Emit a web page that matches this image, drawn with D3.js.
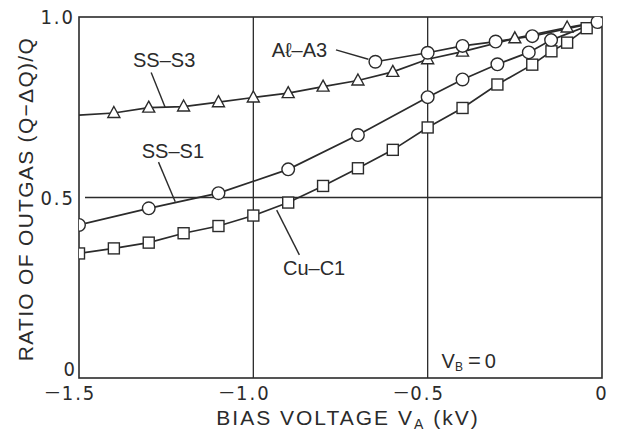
<!DOCTYPE html>
<html><head><meta charset="utf-8">
<script src="https://cdn.jsdelivr.net/npm/d3@7"></script>
<style>
html,body{margin:0;padding:0;background:#fff;}
svg{display:block;}
text{font-family:"Liberation Sans",Arial,sans-serif;fill:#2b2b2b;}
.tick{font-family:"Liberation Sans Narrow","DejaVu Sans Condensed","Liberation Sans",sans-serif;}
</style></head>
<body>
<svg id="chart" width="619" height="435"></svg>
<script>
// ---- data ----
const xTickValues = [-1.5, -1.0, -0.5, 0];
const xTickLabels = ["1.5", "1.0", "0.5", "0"];
const xTickNegative = [true, true, true, false];
const yTickValues = [0, 0.5, 1.0];
const yTickLabels = ["0", "0.5", "1.0"];

// SS-S3 (triangles)
const s3X = [-1.4, -1.3, -1.2, -1.1, -1.0, -0.9, -0.8, -0.7, -0.6, -0.5, -0.4, -0.25, -0.1];
const s3Y = [0.734, 0.749, 0.752, 0.764, 0.777, 0.789, 0.807, 0.824, 0.848, 0.883, 0.904, 0.941, 0.971];
const s3StartX = -1.5, s3StartY = 0.728;

// SS-S1 (circles)
const s1X = [-1.5, -1.3, -1.1, -0.9, -0.7, -0.5, -0.4, -0.3, -0.21, -0.146];
const s1Y = [0.424, 0.470, 0.512, 0.578, 0.673, 0.778, 0.827, 0.869, 0.902, 0.936];

// Cu-C1 (squares)
const c1X = [-1.5, -1.4, -1.3, -1.2, -1.1, -1.0, -0.9, -0.8, -0.7, -0.6, -0.5, -0.4, -0.3, -0.2, -0.145, -0.1, -0.044];
const c1Y = [0.345, 0.359, 0.375, 0.401, 0.421, 0.450, 0.486, 0.532, 0.581, 0.632, 0.694, 0.748, 0.813, 0.868, 0.905, 0.929, 0.969];

// Al-A3 (circles)
const a3X = [-0.65, -0.5, -0.4, -0.305, -0.2, -0.013];
const a3Y = [0.876, 0.901, 0.920, 0.932, 0.947, 0.986];

// common end point of all curves
const endX = -0.013, endY = 0.986;

// ---- layout ----
const L = 79, R = 602, T = 17, B = 378;
const svg = d3.select("#chart");
const x = d3.scaleLinear().domain([-1.5, 0]).range([L, R]);
const y = d3.scaleLinear().domain([0, 1.0]).range([B, T]);
const ink = "#2b2b2b";

svg.append("defs").append("clipPath").attr("id", "plotclip")
  .append("rect").attr("x", L).attr("y", T).attr("width", R - L).attr("height", B - T);

// grid lines
svg.append("g").selectAll("line").data([-1.0, -0.5]).join("line")
  .attr("x1", d => x(d)).attr("x2", d => x(d)).attr("y1", T).attr("y2", B)
  .attr("stroke", ink).attr("stroke-width", 1.3);
svg.append("line").attr("x1", x(-1.5) + 6).attr("x2", R).attr("y1", y(0.5)).attr("y2", y(0.5))
  .attr("stroke", ink).attr("stroke-width", 1.3);

// frame
svg.append("rect").attr("x", L).attr("y", T).attr("width", R - L).attr("height", B - T)
  .attr("fill", "none").attr("stroke", ink).attr("stroke-width", 1.6);

// axes tick labels
const xAxisG = svg.append("g");
xTickValues.forEach((v, i) => {
  const t = xAxisG.append("text").attr("class", "tick").attr("x", x(v)).attr("y", 400)
    .attr("text-anchor", "middle").attr("font-size", 20).attr("letter-spacing", 2)
    .text(xTickLabels[i]);
  if (xTickNegative[i]) {
    const w = t.node().getComputedTextLength();
    xAxisG.append("text").attr("class", "tick").attr("x", x(v) - w / 2 - 2).attr("y", 397)
      .attr("text-anchor", "end").attr("font-size", 16).text("\u2014");
  }
});
svg.append("g").selectAll("text").data(yTickValues).join("text").attr("class", "tick")
  .attr("x", d => d === 0 ? 77 : 75).attr("y", d => d === 0 ? y(d) - 2 : y(d) + 7).attr("text-anchor", "end")
  .attr("font-size", 20).attr("letter-spacing", 2).text((d, i) => yTickLabels[i]);

// axis titles
const xt = svg.append("text").attr("x", 348).attr("y", 425).attr("text-anchor", "middle")
  .attr("font-size", 21).attr("letter-spacing", 2);
xt.append("tspan").text("BIAS VOLTAGE V");
xt.append("tspan").attr("font-size", 14).attr("dy", 4).text("A");
xt.append("tspan").attr("dy", -4).text(" (kV)");

svg.append("text").attr("transform", "translate(33,199) rotate(-90)").attr("text-anchor", "middle")
  .attr("font-size", 21).attr("letter-spacing", 1.3).text("RATIO OF OUTGAS (Q\u2212\u0394Q)/Q");

// ---- curves ----
const line = d3.line().x(d => x(d[0])).y(d => y(d[1]));
const zip = (xs, ys) => xs.map((v, i) => [v, ys[i]]);
const plot = svg.append("g").attr("clip-path", "url(#plotclip)");
const curves = [
  [[s3StartX, s3StartY]].concat(zip(s3X, s3Y), [[endX, endY]]),
  zip(s1X, s1Y).concat([[endX, endY]]),
  zip(c1X, c1Y).concat([[endX, endY]]),
  zip(a3X, a3Y)
];
plot.selectAll("path.curve").data(curves).join("path").attr("class", "curve")
  .attr("d", line).attr("fill", "none").attr("stroke", ink).attr("stroke-width", 1.7);

// markers
const mk = { fill: "#fff", stroke: ink, sw: 1.4 };
plot.selectAll("path.tri").data(zip(s3X, s3Y)).join("path").attr("class", "tri")
  .attr("transform", d => `translate(${x(d[0])},${y(d[1])})`)
  .attr("d", "M0,-6.5L6,4.5L-6,4.5Z")
  .attr("fill", mk.fill).attr("stroke", mk.stroke).attr("stroke-width", mk.sw);
plot.selectAll("rect.sq").data(zip(c1X, c1Y)).join("rect").attr("class", "sq")
  .attr("x", d => x(d[0]) - 5.5).attr("y", d => y(d[1]) - 5.5).attr("width", 11).attr("height", 11)
  .attr("fill", mk.fill).attr("stroke", mk.stroke).attr("stroke-width", mk.sw);
plot.selectAll("circle.c1").data(zip(s1X, s1Y).concat(zip(a3X, a3Y))).join("circle").attr("class", "c1")
  .attr("cx", d => x(d[0])).attr("cy", d => y(d[1])).attr("r", 6.3)
  .attr("fill", mk.fill).attr("stroke", mk.stroke).attr("stroke-width", mk.sw);

// ---- annotations ----
const labels = [
  { t: "SS\u2013S3", x: -1.345, y: 0.861, lx1: -1.293, ly1: 0.846, lx2: -1.253, ly2: 0.750 },
  { t: "SS\u2013S1", x: -1.32, y: 0.609, lx1: -1.272, ly1: 0.598, lx2: -1.224, ly2: 0.488 },
  { t: "Cu\u2013C1", x: -0.915, y: 0.285, lx1: -0.868, ly1: 0.341, lx2: -0.933, ly2: 0.465 },
  { t: "A\u2113\u2013A3", x: -0.947, y: 0.89, lx1: -0.763, ly1: 0.909, lx2: -0.670, ly2: 0.883 }
];
labels.forEach(a => {
  svg.append("text").attr("x", x(a.x)).attr("y", y(a.y)).attr("font-size", 20).text(a.t);
  svg.append("line").attr("x1", x(a.lx1)).attr("y1", y(a.ly1)).attr("x2", x(a.lx2)).attr("y2", y(a.ly2))
    .attr("stroke", ink).attr("stroke-width", 1.4);
});
const vb = svg.append("text").attr("x", x(-0.46)).attr("y", y(0.028)).attr("font-size", 20);
vb.append("tspan").text("V");
vb.append("tspan").attr("font-size", 12).attr("dy", 3).text("B");
vb.append("tspan").attr("dy", -3).attr("dx", 5).attr("font-size", 22).text("=");
vb.append("tspan").attr("dx", 4).text("0");
</script>
</body></html>
